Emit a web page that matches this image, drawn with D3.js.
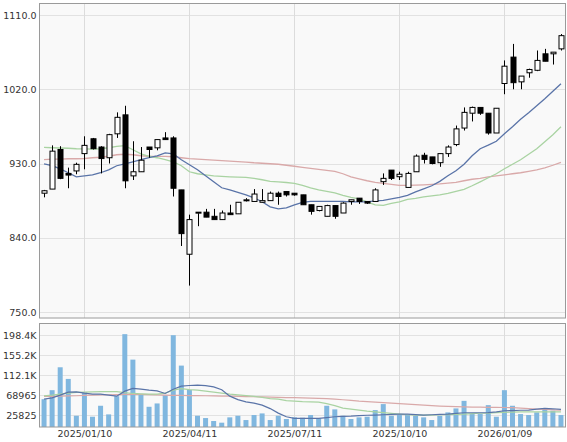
<!DOCTYPE html>
<html><head><meta charset="utf-8">
<script src="https://cdn.jsdelivr.net/npm/d3@7/dist/d3.min.js"></script>
<style>body{margin:0;background:#fff}svg{display:block}</style>
</head><body>
<svg id="c" width="567" height="442"></svg>
<script>
const dates = ["2024/12/06","2024/12/13","2024/12/20","2024/12/27","2025/01/03","2025/01/10","2025/01/17","2025/01/24","2025/01/31","2025/02/07","2025/02/14","2025/02/21","2025/02/28","2025/03/07","2025/03/14","2025/03/21","2025/03/28","2025/04/04","2025/04/11","2025/04/18","2025/04/25","2025/05/02","2025/05/09","2025/05/16","2025/05/23","2025/05/30","2025/06/06","2025/06/13","2025/06/20","2025/06/27","2025/07/04","2025/07/11","2025/07/18","2025/07/25","2025/08/01","2025/08/08","2025/08/15","2025/08/22","2025/08/29","2025/09/05","2025/09/12","2025/09/19","2025/09/26","2025/10/03","2025/10/10","2025/10/17","2025/10/24","2025/10/31","2025/11/07","2025/11/14","2025/11/21","2025/11/28","2025/12/05","2025/12/12","2025/12/19","2025/12/26","2026/01/02","2026/01/09","2026/01/16","2026/01/23","2026/01/30","2026/02/06","2026/02/13","2026/02/20","2026/02/27"];
const open  = [894,899,947,918,921,942,960,950,937,966,989,915,920,950,949,961,961,898,820,870,871,866,862,870,869,885,884,883,885,894,896,894,892,880,873,866,879,870,884,888,884,884,908,922,914,901,920,940,938,931,942,953,973,991,998,991,967,1027,1059,1029,1040,1043,1063,1063,1069];
const high  = [898,952,951,925,931,963,961,951,966,992,1000,957,950,950,959,968,963,898,868,871,875,875,873,880,883,888,899,899,896,896,896,894,892,880,878,880,879,883,886,888,884,900,918,922,920,920,941,943,938,942,952,976,998,999,998,991,997,1055,1075,1036,1045,1067,1069,1065,1087];
const low   = [889,899,911,900,917,923,947,918,930,961,900,910,920,937,946,959,890,830,782,854,865,862,862,868,869,884,884,883,885,880,890,891,880,868,872,866,863,870,880,881,881,884,904,910,910,901,920,930,929,926,938,951,970,981,989,965,967,1014,1020,1020,1034,1042,1054,1050,1067];
const close = [897,945,912,916,929,952,948,936,965,986,909,920,934,947,959,959,900,845,862,871,865,862,870,868,883,886,893,885,894,890,892,892,880,872,878,879,866,882,886,884,882,898,912,912,917,918,939,935,930,942,950,972,992,998,991,967,997,1048,1028,1036,1044,1055,1054,1065,1085];
const ma13 = [929.7,927.3,923.6,918.8,913.9,915.1,916.3,918.8,922.4,927.3,929.7,932.1,934.6,937.0,939.4,943.0,941.8,934.6,928.5,922.4,915.1,907.8,900.6,898.1,895.1,892.1,888.4,883.6,877.5,875.1,876.3,879.9,882.9,884.2,884.2,884.2,884.2,884.0,883.6,883.6,883.6,884.8,885.4,887.2,889.0,891.4,895.7,899.3,903.0,908.4,915.1,921.2,929.1,939.4,947.9,952.2,957.0,966.1,974.6,983.7,991.6,1000.1,1008.6,1017.7,1026.8];
const ma26 = [949.5,949.1,948.8,948.5,947.9,947.7,947.5,947.9,949.1,950.9,951.6,946.7,941.8,938.8,937.0,934.6,932.1,927.3,920.0,917.6,916.3,915.1,914.5,913.9,913.5,913.3,912.1,910.3,908.4,907.8,907.0,906.0,903.6,900.6,898.1,896.3,894.5,891.4,889.0,887.2,883.6,879.9,879.3,881.7,883.6,886.6,887.8,889.6,890.8,892.1,893.9,896.3,898.7,903.0,907.8,912.7,917.6,923.6,929.1,934.6,941.2,947.9,956.4,964.9,974.6];
const ma52 = [934.6,935.2,935.4,935.8,935.8,936.1,937.0,937.6,938.8,940.6,941.2,940.6,939.4,938.8,938.6,938.6,938.2,937.0,936.0,935.4,934.8,934.2,933.6,933.0,932.4,931.8,930.9,930.3,929.7,929.1,927.9,926.7,925.4,924.2,923.0,921.8,920.6,917.6,913.9,911.5,909.1,907.2,906.0,904.8,903.6,903.6,903.8,904.2,904.8,905.4,906.3,907.2,909.1,910.9,912.1,913.9,915.1,916.3,917.6,918.8,920.6,922.4,924.8,927.9,931.5];
const volume = [60000,79400,128800,103700,24300,74400,22200,45800,27200,66500,200200,145300,70800,43600,50800,68700,198000,132400,80000,24300,19300,12900,9300,20800,24300,15000,25800,29300,15000,24300,17200,20800,20000,25800,18600,45800,38000,24300,17200,20800,22200,36500,49400,24300,25800,25800,24300,20800,15000,24300,31500,40100,56400,27900,27900,47200,22200,79400,45800,27900,25800,31500,40100,35000,25800];
const volMa13 = [60.1,62.9,68.7,75.1,75.8,73.0,70.8,70.8,68.7,66.5,77.3,83.1,81.5,79.4,77.9,72.3,81.5,88.0,89.5,90.1,89.1,86.5,80.5,66.5,59.0,54.3,51.5,47.2,39.7,30.0,22.1,18.7,18.7,18.7,18.7,20.4,22.1,23.0,23.6,24.7,25.3,25.8,26.4,27.3,27.9,27.9,26.8,25.8,26.4,27.3,27.9,29.4,30.7,30.7,30.7,31.1,32.8,35.0,35.4,36.1,36.5,38.6,40.1,39.3,38.0];
const volMa26 = [67.2,68.7,70.8,73.0,74.5,75.1,75.8,76.2,76.6,76.2,74.0,72.3,71.5,70.8,70.8,73.0,79.4,82.6,80.5,79.4,77.3,75.1,73.0,70.8,69.3,67.6,65.9,63.7,61.2,60.1,56.9,55.8,54.7,54.3,53.7,50.4,46.1,40.8,38.6,36.5,34.3,32.8,31.1,29.4,27.9,26.4,25.8,25.8,25.8,26.4,26.8,27.3,27.9,29.0,29.6,30.0,30.9,31.5,32.2,32.6,32.8,32.8,32.8,32.8,32.8];
const volMa52 = [65.9,66.1,66.5,67.0,67.4,68.0,68.7,69.1,69.5,70.0,70.4,70.8,70.4,69.7,69.1,68.7,68.2,68.0,67.8,67.6,67.4,67.0,66.7,66.5,66.1,65.7,65.2,64.8,64.4,64.0,63.5,63.3,62.9,62.2,61.8,61.2,60.1,58.8,57.3,55.8,54.7,53.7,52.6,51.5,50.4,49.4,48.3,47.2,46.1,45.1,44.4,43.8,43.3,42.9,42.7,42.5,42.3,42.1,41.6,40.8,39.7,38.6,38.0,37.1,36.5];
const priceTicks = [750, 840, 930, 1020, 1110];
const volTicks = [25825, 68965, 112105, 155245, 198385];
const volTickLabels = ["25825", "68965", "112.1K", "155.2K", "198.4K"];
const dateTicks = ["2025/01/10", "2025/04/11", "2025/07/11", "2025/10/10", "2026/01/09"];

const svg = d3.select("#c");
const L = 39.5, R = 565.5;
const P = {top: 3.5, bottom: 318};
const V = {top: 323.5, bottom: 427};
const font = "DejaVu Sans, Verdana, sans-serif";

const x = d3.scalePoint().domain(dates).range([40, 565]).padding(0.5);
const y = d3.scaleLinear().domain([742.7, 1124]).range([P.bottom, P.top]);
const yv = d3.scaleLinear().domain([0, 223200]).range([V.bottom, V.top]);

// panels background
[[P.top, P.bottom], [V.top, V.bottom]].forEach(([t, b]) => {
  svg.append("rect").attr("x", L).attr("y", t).attr("width", R - L).attr("height", b - t)
    .attr("fill", "#f9f9f9");
});

// grids
const g = svg.append("g");
g.selectAll(".hp").data(priceTicks).join("line")
  .attr("x1", L).attr("x2", R).attr("y1", d => Math.round(y(d)) + 0.5).attr("y2", d => Math.round(y(d)) + 0.5)
  .attr("stroke", "#e2e2e2");
g.selectAll(".hv").data(volTicks).join("line").attr("class", "hv")
  .attr("x1", L).attr("x2", R).attr("y1", d => Math.round(yv(d)) + 0.5).attr("y2", d => Math.round(yv(d)) + 0.5)
  .attr("stroke", "#e2e2e2");
[[P.top, P.bottom], [V.top, V.bottom]].forEach(([t, b]) => {
  g.append("g").selectAll("line").data(dateTicks).join("line")
    .attr("x1", d => Math.round(x(d)) + 0.5).attr("x2", d => Math.round(x(d)) + 0.5)
    .attr("y1", t).attr("y2", b).attr("stroke", "#dcdcdc");
});

// axes labels
const yAxis = d3.axisLeft(y).tickValues(priceTicks).tickFormat(d => d.toFixed(1)).tickSize(0).tickPadding(3);
const ya = svg.append("g").attr("transform", `translate(${L},0)`).call(yAxis);
const yvAxis = d3.axisLeft(yv).tickValues(volTicks).tickFormat((d, i) => volTickLabels[i]).tickSize(0).tickPadding(3);
const yva = svg.append("g").attr("transform", `translate(${L},0)`).call(yvAxis);
const xAxis = d3.axisBottom(x).tickValues(dateTicks).tickSize(0).tickPadding(3);
const xa = svg.append("g").attr("transform", `translate(0,${V.bottom})`).call(xAxis);
[ya, yva, xa].forEach(a => {
  a.select(".domain").remove();
  a.selectAll("text").attr("font-family", font).attr("font-size", "9.5px").attr("fill", "#333");
});

// volume bars
const bw = 5;
svg.append("g").selectAll("rect").data(volume).join("rect")
  .attr("x", (d, i) => x(dates[i]) - bw / 2)
  .attr("y", d => yv(d))
  .attr("width", bw)
  .attr("height", d => V.bottom - yv(d))
  .attr("fill", "#80b7df");

// volume MAs (in thousands)
const vline = d3.line().x((d, i) => x(dates[i])).y(d => yv(d * 1000));
[[volMa52, "#d9a9a9"], [volMa26, "#a9d3a2"], [volMa13, "#5a74a8"]].forEach(([arr, c]) => {
  svg.append("path").attr("d", vline(arr)).attr("fill", "none").attr("stroke", c).attr("stroke-width", 1.2);
});

// price MAs
const pline = d3.line().x((d, i) => x(dates[i])).y(d => y(d));
[[ma52, "#d9a9a9"], [ma26, "#a9d3a2"], [ma13, "#5a74a8"]].forEach(([arr, c]) => {
  svg.append("path").attr("d", pline(arr)).attr("fill", "none").attr("stroke", c).attr("stroke-width", 1.3);
});

// candles
const cg = svg.append("g");
dates.forEach((d, i) => {
  const cx = Math.round(x(d)) + 0.5;
  cg.append("line").attr("x1", cx).attr("x2", cx).attr("y1", y(high[i])).attr("y2", y(low[i]))
    .attr("stroke", "#000").attr("stroke-width", 1);
  const top = y(Math.max(open[i], close[i])), bot = y(Math.min(open[i], close[i]));
  const up = close[i] >= open[i];
  cg.append("rect").attr("x", cx - 2.5).attr("y", top).attr("width", 5).attr("height", Math.max(1, bot - top))
    .attr("fill", up ? "#fff" : "#000").attr("stroke", "#000").attr("stroke-width", 1);
});

// frames
[[P.top, P.bottom], [V.top, V.bottom]].forEach(([t, b]) => {
  svg.append("rect").attr("x", L).attr("y", t).attr("width", R - L).attr("height", b - t)
    .attr("fill", "none").attr("stroke", "#9a9a9a");
});
</script>
</body></html>
